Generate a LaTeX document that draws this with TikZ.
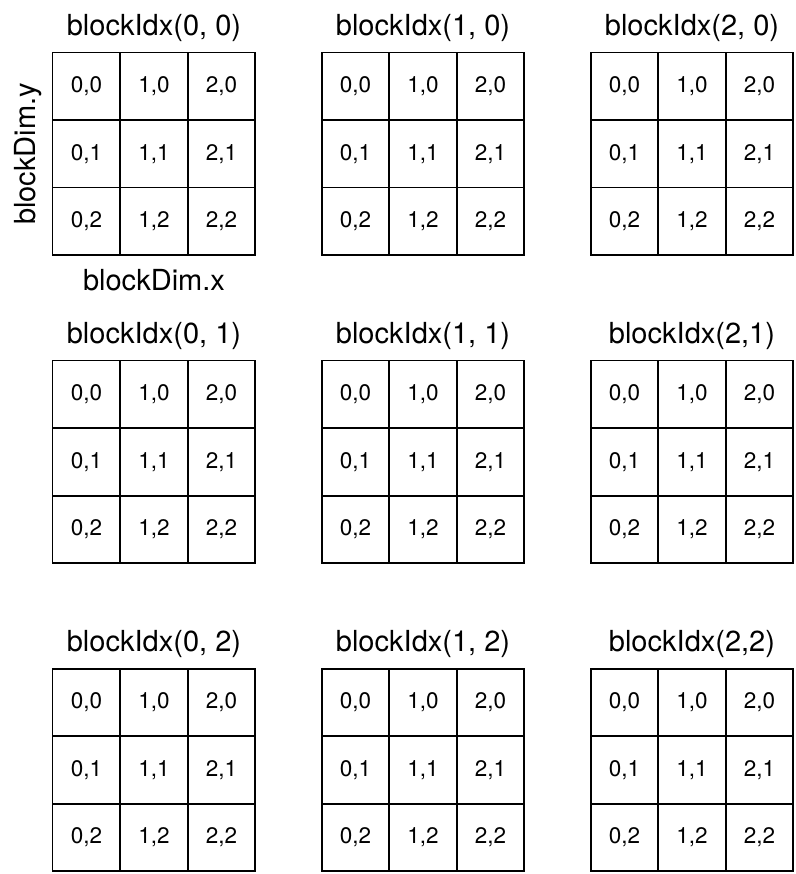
\documentclass[tikz,border=0pt]{standalone}
\usepackage{fontspec}
\setmainfont{TeX Gyre Heros}
\usetikzlibrary{positioning}

\begin{document}
\begin{tikzpicture}[
    x=0.02cm, y=-0.02cm,
    cell/.style={draw, line width=0.9pt, minimum size=1.35cm, inner sep=0pt,
        font=\fontsize{12.8}{15}\selectfont},
    title/.style={font=\fontsize{16.5}{20}\selectfont},
    axis/.style={font=\fontsize{16.5}{20}\selectfont},
]
\useasboundingbox (0,0) rectangle (795,874);

% ---------------- blocks of 3x3 threads
\foreach \bx/\by/\txt in {0/0/{0, 0}, 1/0/{1, 0}, 2/0/{2, 0},
                          0/1/{0, 1}, 1/1/{1, 1}, 2/1/{2,1},
                          0/2/{0, 2}, 1/2/{1, 2}, 2/2/{2,2}}{
    \pgfmathsetmacro\ox{52.7+\bx*269}
    \pgfmathsetmacro\oy{52.7+\by*308}
    \foreach \cx in {0,1,2}{
        \foreach \cy in {0,1,2}{
            \node[cell] (c\bx\by-\cx\cy) at ({\ox+33.75+\cx*67.5}, {\oy+33.75+\cy*67.5}) {\cx,\cy};
        }
    }
    \node[title] (t\bx\by) at ({\ox+101.25}, {\oy-25}) {blockIdx(\txt)};
}

% ---------------- dimension labels
\node[axis, rotate=90] (dimy) at (28, 154) {blockDim.y};
\node[axis] (dimx) at (154, 280) {blockDim.x};

\end{tikzpicture}
\end{document}
